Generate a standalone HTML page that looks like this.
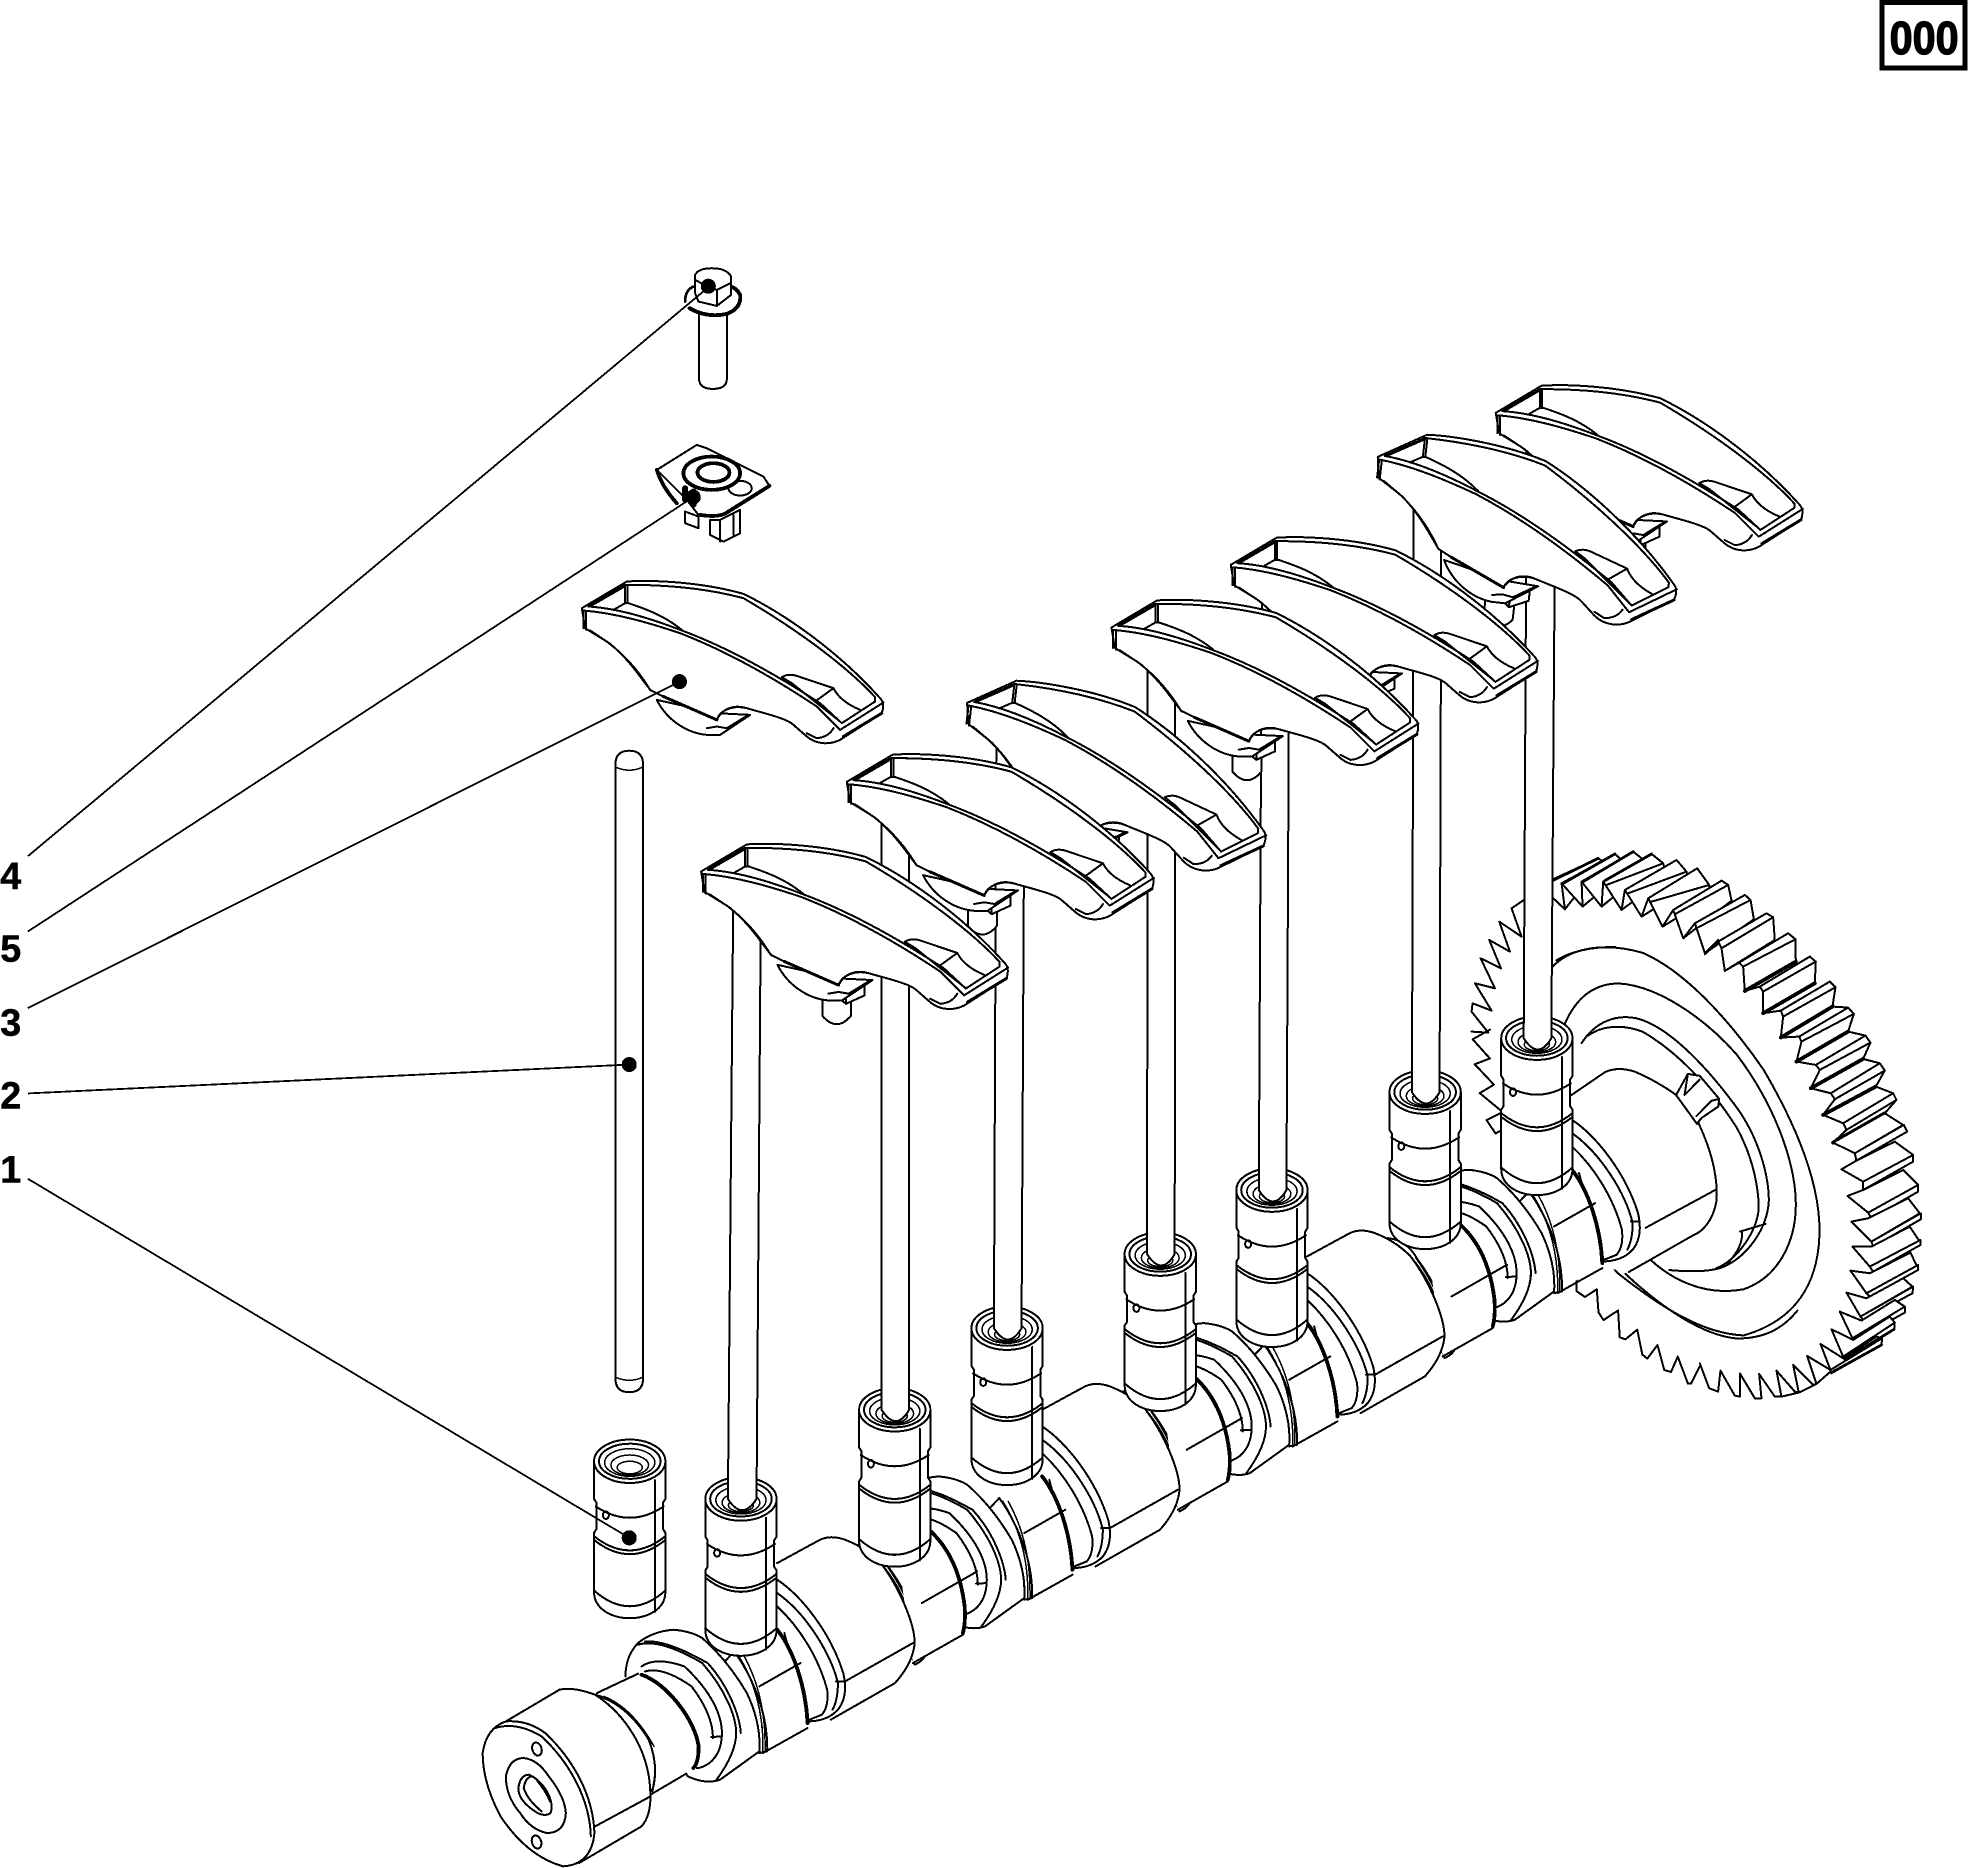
<!DOCTYPE html>
<html><head><meta charset="utf-8"><title>Camshaft assembly</title>
<style>
html,body{margin:0;padding:0;background:#fff}
svg{display:block;shape-rendering:crispEdges}
path,line,ellipse,rect,polygon{vector-effect:non-scaling-stroke}
.l{fill:none;stroke:#000;stroke-width:2;stroke-linejoin:round;stroke-linecap:round}
.w{fill:#fff;stroke:#000;stroke-width:2;stroke-linejoin:round;stroke-linecap:round}
.n{fill:#fff;stroke:none}
.t{fill:none;stroke:#000;stroke-width:3.8;stroke-linecap:round;stroke-linejoin:round}
.f{fill:none;stroke:#000;stroke-width:1.5;stroke-linecap:round}
.d{fill:#000}
.num{font-family:"Liberation Sans",sans-serif;font-weight:bold;font-size:30px;fill:#000;stroke:#000;stroke-width:.4px}
</style></head><body>
<svg width="1969" height="1868" viewBox="0 0 1568 1488" xmlns="http://www.w3.org/2000/svg">
<defs>
<g id="tap">
<path class="w" d="M-28.4,0V30L-26.5,33V54L-28.4,57V104C-28.4,118-14,125 0,125C14,125 28.4,118 28.4,104V57L26.5,54V33L28.4,30V0Z"/>
<ellipse class="w" cx="0" cy="0" rx="28.4" ry="17.3"/>
<ellipse class="l" cx="0" cy="0" rx="24.5" ry="14"/>
<ellipse class="f" cx="0" cy="1" rx="20" ry="11"/>
<ellipse class="f" cx="0" cy="3" rx="15" ry="8"/>
<ellipse class="f" cx="0" cy="5" rx="10" ry="5"/>
<path class="l" d="M-27,36Q0,54 27,36M-28,63Q0,85 28,63M-28,60Q0,82 28,60M-28.4,103Q0,128 28.4,103M20,15V120"/>
<ellipse class="l" cx="-19" cy="43" rx="2.4" ry="3"/>
</g>

<g id="rock">
<path class="w" d="M320,1380C350,1440 410,1480 470,1485L510,1485L600,1425L500,1420Z"/>
<path class="w" d="M95,1105L230,1025C300,1020 450,1025 580,1062C700,1120 860,1230 990,1375Q1005,1390 995,1420L870,1500C840,1515 800,1515 770,1490L730,1455C710,1435 640,1420 590,1405C550,1395 510,1410 500,1440L340,1370L300,1350C270,1300 230,1250 170,1205L105,1165Z"/>
<path class="l" d="M100,1112C200,1120 300,1150 390,1180C480,1215 620,1280 800,1400L870,1470L1000,1388"/>
<path class="l" d="M115,1100C200,1105 300,1135 390,1170C500,1210 640,1280 810,1390L875,1450L975,1385L975,1372C900,1290 760,1180 580,1075C450,1040 320,1035 235,1035L225,1035L115,1100"/>
<path class="l" d="M225,1035V1090L235,1090C280,1105 340,1125 395,1170M190,1110L225,1090M232,1035V1090"/>
<path class="t" style="stroke-width:3" d="M880,1490L995,1420M120,1098L220,1040"/>
<path class="l" d="M695,1312Q715,1300 740,1308L850,1345Q870,1385 930,1410M695,1312L725,1330L870,1445M850,1345L795,1385"/>
<path class="l" d="M100,1112V1165M108,1115V1170"/>
<path class="l" d="M500,1440C520,1400 560,1395 590,1405M470,1465L500,1460L530,1465L595,1425M850,1465Q835,1492 800,1495L770,1480"/>
<path class="l" d="M120,1172L180,1212C240,1262 270,1312 302,1352"/>
<path class="t" style="stroke-width:3" d="M340,1370L500,1440"/>
</g>

<g id="rockI">
<path class="w" d="M452,1470V1530Q495,1580 537,1530V1470Z"/>
<path class="w" d="M492,1470L522,1495L577,1470V1435L522,1460L492,1445Z"/>
<path class="l" d="M522,1460V1495"/>
<use href="#rock"/>
</g>
<g id="rockS" transform="translate(95,1105) scale(1.018) translate(-95,-1105)"><use href="#rockI"/></g>
<g id="rockR" transform="translate(95,1105) rotate(6.5) scale(1.035) translate(-95,-1105)"><use href="#rockI"/></g>

<g id="Ua">
<path class="w" d="M1085,435Q1140,440 1170,500C1220,570 1265,680 1275,760Q1275,780 1245,795L1150,500Z"/>
<path class="f" d="M1150,490C1200,550 1250,660 1262,775M1165,495C1215,570 1258,670 1270,775"/>
<path class="n" d="M1200,480L1290,395C1345,450 1375,530 1385,620Q1388,670 1380,700L1240,790Z"/>
<path class="t" d="M1290,395C1345,450 1375,530 1385,620Q1388,670 1380,700"/>
<path class="l" d="M1265,610L1420,515M1240,790L1380,705"/>
<path class="w" d="M860,490L980,420Q1010,405 1050,420Q1110,445 1150,490C1200,560 1245,670 1245,730Q1240,790 1190,850L1010,960"/>
<path class="l" d="M1050,845L1240,730"/>
</g>

<g id="Ub">
<path class="w" d="M860,540C930,590 1010,700 1045,820Q1060,890 1030,930Q1000,965 945,965L880,700"/>
<path class="l" d="M860,580C940,640 1010,760 1030,850Q1030,900 1015,930M860,620C920,680 975,770 1000,870Q1005,920 985,945L950,960M1025,845L1050,845"/>
<path class="n" d="M860,690C900,740 945,850 945,970L825,1055L760,760Z"/>
<path class="t" d="M860,690C905,750 940,860 945,970"/>
<path class="l" d="M810,860L925,790M820,1060L945,985"/>
<path class="w" d="M740,755C790,830 835,940 832,1055L810,1060L700,800Z"/>
<path class="f" d="M750,765C800,850 822,950 820,1055M765,765C810,850 828,950 826,1055"/>
<path class="w" d="M435,830Q435,770 470,730Q510,695 570,690Q620,695 650,715Q720,780 775,880Q815,970 810,1055L700,1140Q660,1155 610,1130L590,1100"/>
<path class="l" d="M470,735Q530,715 650,790C715,870 745,950 745,1000Q745,1060 690,1140"/>
<path class="l" d="M490,725Q550,720 665,790C725,860 755,950 758,1000"/>
<path class="l" d="M480,800Q520,770 600,800C680,880 705,950 705,1000Q705,1060 670,1090Q650,1105 635,1105"/>
<path class="l" d="M490,815Q540,800 620,860C670,930 680,980 680,1015M675,1012L705,1010"/>
</g>
</defs>

<rect width="1568" height="1488" fill="#fff"/>

<!-- gear: bottom-left and left saw -->
<g transform="translate(1146.8,653.2) scale(.2687,.3064)">
<path class="l" d="M405,1165L405,1225L430,1240L465,1220L470,1280L485,1300L528,1275L533,1345L550,1350L585,1325L600,1390L615,1400L645,1365L665,1430L685,1435L705,1395L735,1465L745,1465L770,1420"/>
<path class="l" d="M185,760L138,780L165,815L185,805M180,755L118,710L160,688L103,635L148,620L97,570L148,545"/>
</g>

<!-- gear: top teeth -->
<g transform="translate(1162.7,669.1) scale(.2655)">
<path class="l" d="M85,578L35,515L38,490L95,512L45,430L105,445L62,355L123,385L88,300L150,335L118,245L185,290L155,205L195,178M35,575L85,578"/>
<path class="w" d="M275,120L415,55L425,62L400,100L315,208L275,170Z"/>
<path class="w" d="M305,130L465,42L480,55L500,90L368,200Z"/>
<path class="w" d="M365,125L520,35L545,55L560,90L425,200Z"/>
<path class="w" d="M430,125L575,42L610,70L620,110L485,210Z"/>
<path class="w" d="M495,150L650,60L680,95L690,140L545,230Z"/>
<path class="w" d="M565,175L712,85L748,135L755,170L608,260Z"/>
<path class="w" d="M640,210L785,122L805,135L815,182L670,295Z"/>
<path class="w" d="M705,250L855,165L872,180L882,238L735,340Z"/>
<path class="l" d="M275,170L315,208L305,130L368,200L365,125L425,200L430,125L485,210L495,150L545,230L565,175L608,260L640,210L670,295L705,250L735,340L775,300"/>
<path class="l" d="M440,135L610,70M505,160L680,95M575,185L748,135M650,220L805,135M715,262L872,180"/>
<path class="t" style="stroke-width:2.8" d="M278,122L415,55M310,130L465,42M370,125L520,35M435,122L575,42"/>
</g>

<!-- gear: right teeth -->
<g transform="translate(1353.8,685) scale(.2655)">
<path class="w" d="M55,245L200,160L220,172L225,240L75,333L65,265Z"/>
<path class="w" d="M118,308L265,220L287,238L288,305L135,393L130,320Z"/>
<path class="w" d="M180,380L330,290L348,305L345,370L190,460L190,395Z"/>
<path class="w" d="M243,452L390,365L407,382L398,440L243,533L250,470Z"/>
<path class="w" d="M298,530L445,443L462,462L445,515L290,605L305,545Z"/>
<path class="w" d="M348,615L497,527L512,548L490,597L333,685L360,630Z"/>
<path class="w" d="M393,700L540,610L555,632L528,680L370,765L405,718Z"/>
<path class="w" d="M430,790L580,700L590,720L555,760L400,848L440,810Z"/>
<path class="l" d="M15,283L55,245M75,333L118,308M135,393L180,380M190,460L243,452M243,533L298,530M290,605L348,615M333,685L393,700M370,765L430,790M398,440L445,443M445,515L497,527M490,597L540,610M528,680L580,700"/>
<path class="l" d="M65,265L220,172M130,320L287,238M190,395L348,305M250,470L407,382M305,545L462,462M360,630L512,548M405,718L555,632M440,810L590,720"/>
<path class="t" d="M288,305L135,393M345,370L190,460M398,440L243,533M445,515L290,605M490,597L333,685M528,680L370,765M555,760L400,848"/>
</g>

<!-- gear: lower right teeth -->
<g transform="translate(1353.8,900.1) scale(.2655)">
<path class="w" d="M400,38L465,70L610,-15L555,-50Z"/>
<path class="w" d="M465,70L612,-15L622,5L470,92Z"/>
<path class="w" d="M425,118L490,155L640,75L585,35L470,92Z"/>
<path class="w" d="M490,155L640,75L640,95L490,180Z"/>
<path class="w" d="M443,198L505,248L655,165L610,120L490,180Z"/>
<path class="w" d="M505,248L655,165L655,185L515,265Z"/>
<path class="w" d="M455,275L515,335L660,250L625,205L505,265Z"/>
<path class="w" d="M515,335L663,250L663,268L520,350Z"/>
<path class="w" d="M458,350L510,410L660,335L630,290L515,350Z"/>
<path class="w" d="M510,410L662,330L662,345L520,425Z"/>
<path class="w" d="M452,422L500,490L652,410L632,368L510,430Z"/>
<path class="w" d="M500,490L655,405L655,420L510,500Z"/>
<path class="w" d="M440,488L482,560L638,470L610,445L500,505Z"/>
<path class="w" d="M482,560L640,470L638,490L490,570Z"/>
<path class="w" d="M420,545L458,625L615,530L585,510L485,572Z"/>
<path class="w" d="M458,625L615,530L615,548L465,632Z"/>
<path class="w" d="M395,598L430,680L585,578L570,560L460,630Z"/>
<path class="w" d="M430,680L585,578L583,598L435,688Z"/>
<path class="w" d="M362,642L392,720L547,625L530,620L430,685Z"/>
<path class="w" d="M392,720L547,625L545,645L395,730Z"/>
<path class="t" style="stroke-width:2.8" d="M395,728L545,645M435,688L583,598"/>
<path class="l" d="M0,700L28,775L55,785L62,722L105,797L120,800L120,730L165,805L185,805L178,732L225,800L245,800L230,722L285,785L297,788L280,705L340,765L350,762L322,678L392,720M322,678L350,762"/>
<path class="l" d="M245,800L297,788L350,762L392,725"/>
</g>

<!-- hub -->
<g transform="translate(1146.8,653.2) scale(.2687,.3064)">
<path class="w" d="M330,385C380,335 480,315 600,345C720,390 850,510 960,650C1060,800 1130,950 1125,1080C1120,1200 1060,1300 900,1340C780,1335 660,1270 530,1180L330,1000Z"/>
<path class="l" d="M1060,1275C1010,1330 950,1348 880,1348C780,1340 660,1270 550,1180M345,365C400,335 470,330 520,330"/>
<path class="l" d="M370,530C400,470 450,425 530,425C640,430 780,510 880,610C1000,750 1055,900 1055,1000C1055,1100 1000,1190 900,1220C780,1240 680,1190 620,1140"/>
<path class="l" d="M420,580C460,525 520,505 580,515C680,535 800,650 890,760C950,840 975,930 975,990C970,1070 900,1145 830,1165C790,1175 740,1175 680,1170"/>
<path class="l" d="M440,560C480,535 540,530 600,550C700,600 800,690 880,800C930,880 945,960 945,1010C940,1070 880,1145 820,1165M890,1070L965,1050M850,1155Q900,1110 895,1070"/>
<path class="n" d="M390,715L490,655Q530,640 580,655C620,670 670,695 700,715L765,785C800,850 825,920 820,990C810,1040 780,1070 750,1080L560,1175L400,1150Z"/>
<path class="l" d="M390,715L490,655Q530,640 580,655C620,670 670,695 700,715M765,785C800,850 825,920 820,990C810,1040 780,1070 750,1080L560,1175M610,1060L820,960"/>
<path class="w" d="M700,715L735,660L770,665L828,725L825,745L775,775L762,790Z"/>
<path class="l" d="M725,715L770,675M735,660L725,715M760,770L805,730L828,725"/>
</g>

<!-- camshaft -->
<g transform="translate(374.3,1115) scale(.2844,.2655)">
<use href="#Ub" transform="translate(2226,-1380)"/>
<use href="#Ua" transform="translate(1484,-920)"/>
<use href="#Ub" transform="translate(1484,-920)"/>
<use href="#Ua" transform="translate(742,-460)"/>
<use href="#Ub" transform="translate(742,-460)"/>
<use href="#Ua"/>
<use href="#Ub"/>
<path class="n" d="M355,880L470,822Q530,825 590,890C625,950 645,1030 625,1105L505,1185Z"/>
<path class="l" d="M355,880L470,822M600,1125L505,1185"/>
<path class="t" d="M480,825C550,850 630,960 640,1040Q640,1090 625,1105"/>
<path class="w" d="M350,885Q440,910 500,1020Q530,1100 510,1175L400,1000Z"/>
<path class="f" d="M360,890Q445,920 505,1030Q525,1100 512,1160M375,890Q455,925 515,1040"/>
<path class="w" d="M100,965L250,870Q285,860 350,885C430,940 505,1050 505,1190Q505,1250 480,1280L305,1390"/>
<path class="l" d="M350,1280L505,1190"/>
<path class="w" d="M35,1060Q45,985 100,965Q160,960 210,1000C290,1080 345,1190 348,1300Q340,1395 260,1400Q160,1370 85,1250Q35,1150 35,1060Z"/>
<path class="l" d="M70,985Q130,965 200,1010C280,1090 335,1200 338,1310"/>
<path class="l" d="M100,1130Q110,1075 150,1075Q190,1080 220,1130Q265,1190 268,1240Q265,1300 215,1300Q170,1290 140,1240Q100,1190 100,1130Z"/>
<path class="l" d="M135,1165Q140,1125 165,1125Q195,1140 215,1175Q235,1215 225,1240Q205,1255 175,1230Q135,1200 135,1165Z"/>
<path class="l" d="M150,1165Q155,1130 175,1130Q205,1150 225,1205M150,1165Q160,1200 200,1235"/>
<path class="t" style="stroke-width:2.6" d="M190,1145Q210,1170 225,1205"/>
<ellipse class="l" cx="187" cy="1048" rx="13" ry="20" transform="rotate(-15 187 1048)"/>
<ellipse class="l" cx="186" cy="1327" rx="13" ry="20" transform="rotate(-15 186 1327)"/>
</g>

<!-- pushrods and tappets -->
<use href="#tap" x="1224" y="827"/>
<path class="w" d="M1216,345L1213.5,827Q1225,845 1235.5,827L1239,345"/>
<use href="#tap" x="1135" y="870"/>
<path class="w" d="M1126,380L1124.5,870Q1136,888 1146.5,870L1148,380"/>
<use href="#tap" x="1013" y="948"/>
<path class="w" d="M1005,460L1002.5,948Q1014,966 1024.5,948L1027,460"/>
<use href="#tap" x="924" y="999"/>
<path class="w" d="M914,515L913.5,999Q925,1017 935.5,999L936,515"/>
<use href="#tap" x="802" y="1058"/>
<path class="w" d="M793.5,575L791.5,1058Q803,1076 813.5,1058L816,575"/>
<use href="#tap" x="712.5" y="1123"/>
<path class="w" d="M702,640L702,1123Q713.5,1141 724,1123L724,640"/>
<use href="#tap" x="590" y="1194"/>
<path class="w" d="M584,700L579.6,1194Q591,1212 602.4,1194L606,700"/>

<!-- rockers -->
<g transform="translate(438,191.1) scale(.2655)">
<use href="#rockS" transform="translate(2742,-586)"/>
<use href="#rockR" transform="translate(2388,-454)"/>
<use href="#rockS" transform="translate(1947,-130)"/>
<use href="#rockS" transform="translate(1589,58)"/>
<use href="#rockR" transform="translate(1156,284)"/>
<use href="#rockS" transform="translate(795,521)"/>
<use href="#rockS" transform="translate(358,790)"/>
<use href="#rock"/>

<!-- bolt -->
<path class="w" d="M447,225V420Q450,447 488,447Q528,447 530,420V225"/>
<path class="t" d="M418,205Q470,235 530,222Q575,205 570,165Q560,145 542,140"/>
<path class="t" style="stroke-width:2.6" d="M405,185Q405,150 430,140"/>
<path class="w" d="M435,105Q445,85 485,85Q530,85 543,110V165L500,198L445,185L435,160Z"/>
<path class="l" d="M435,120Q470,140 500,150L540,130M500,150V198"/>

<!-- clamp -->
<path class="w" d="M405,815V850L445,865V830Z"/>
<path class="w" d="M480,840V885L520,905L570,880V810L510,840Z"/>
<path class="l" d="M510,845V905M550,825V885"/>
<path class="w" d="M320,690L440,615L470,625L640,710L658,738L530,820Q510,835 445,825L410,780Z"/>
<path class="t" d="M320,690Q335,740 380,790M658,738L535,815Q510,835 450,825"/>
<ellipse class="w" cx="570" cy="745" rx="35" ry="22"/>
<ellipse class="t" style="fill:#fff" cx="485" cy="700" rx="85" ry="50"/>
<ellipse class="t" style="fill:#fff" cx="490" cy="698" rx="48" ry="28"/>
<path class="t" style="stroke-width:6" d="M405,745V780M430,755V795"/>
</g>

<!-- standalone tappet and pushrod -->
<use href="#tap" x="501.4" y="1164"/>
<path class="w" d="M490,609Q490,598 501,598Q512,598 512,609V1098Q512,1109 501,1109Q490,1109 490,1098Z"/>
<path class="f" d="M490,611Q501,616 512,611M490,1097Q501,1102 512,1097"/>

<!-- leaders -->
<g stroke="#000" stroke-width="1.8">
<line x1="22" y1="682" x2="565" y2="228"/>
<line x1="22" y1="742" x2="552" y2="396"/>
<line x1="22" y1="803" x2="541" y2="543"/>
<line x1="22" y1="871" x2="501" y2="848"/>
<line x1="22" y1="939" x2="501" y2="1225"/>
</g>
<circle class="d" cx="564" cy="228" r="6"/>
<circle class="d" cx="552" cy="396" r="6"/>
<circle class="d" cx="541" cy="543" r="6"/>
<circle class="d" cx="501" cy="848" r="6"/>
<circle class="d" cx="501" cy="1225" r="6"/>

<!-- labels -->
<text class="num" x="0" y="708">4</text>
<text class="num" x="0" y="766">5</text>
<text class="num" x="0" y="825">3</text>
<text class="num" x="0" y="883">2</text>
<text class="num" x="0" y="942">1</text>

<rect x="1499" y="2" width="66" height="52" fill="#fff" stroke="#000" stroke-width="5"/>
<text x="1505" y="43" textLength="55" lengthAdjust="spacingAndGlyphs" style="font-family:'Liberation Sans',sans-serif;font-weight:bold;font-size:37px;stroke:#000;stroke-width:1px" fill="#000">000</text>
</svg>
</body></html>
